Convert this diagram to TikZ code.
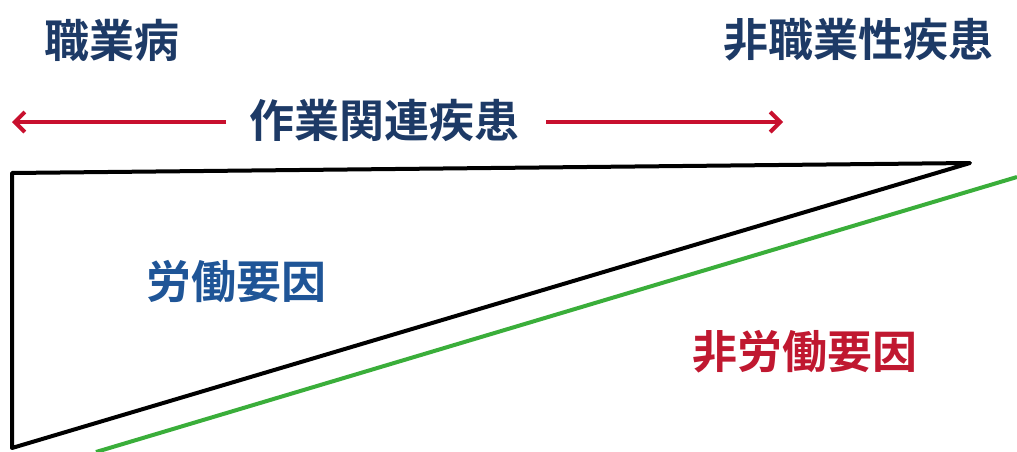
\documentclass[tikz,border=0pt]{standalone}
\usepackage{fontspec}
\newfontfamily\cjk{Noto Sans CJK JP}[BoldFont={* Bold}]
\usetikzlibrary{arrows.meta}
\definecolor{navy}{HTML}{1D3A66}
\definecolor{midblue}{HTML}{1F5597}
\definecolor{darkred}{HTML}{C01830}
\definecolor{arrred}{HTML}{C8102E}
\definecolor{lgreen}{HTML}{3AAE3A}
\tikzset{
  lbl/.style={font=\cjk\bfseries\fontsize{45}{45}\selectfont, inner sep=0pt, anchor=center},
  edge/.style={line width=4pt, line join=round},
  rarrow/.style={arrred, line width=4pt, -{Straight Barb[length=10pt,width=20pt,line width=4pt]}}
}
\begin{document}
\begin{tikzpicture}[x=1pt,y=-1pt]
\useasboundingbox (0,0) rectangle (1017,452);
\node[lbl, text=navy] (occ) at (112,40) {職業病};
\node[lbl, text=navy] (nonocc) at (858,40) {非職業性疾患};
\node[lbl, text=navy] (work) at (384,120) {作業関連疾患};
\node[lbl, text=midblue] (labor) at (236,282) {労働要因};
\node[lbl, text=darkred] (nonlabor) at (805,352) {非労働要因};
\coordinate (tl) at (12,173);
\coordinate (tr) at (970,163);
\coordinate (bl) at (12,448);
\coordinate (g1) at (96,452);
\coordinate (g2) at (1017,177);
\coordinate (la) at (226,122);
\coordinate (lb) at (12,122);
\coordinate (ra) at (546,122);
\coordinate (rb) at (783,122);
\draw[edge] (tl) -- (tr) -- (bl) -- cycle;
\draw[lgreen, line width=4pt] (g1) -- (g2);
\draw[rarrow] (la) -- (lb);
\draw[rarrow] (ra) -- (rb);
\end{tikzpicture}
\end{document}
